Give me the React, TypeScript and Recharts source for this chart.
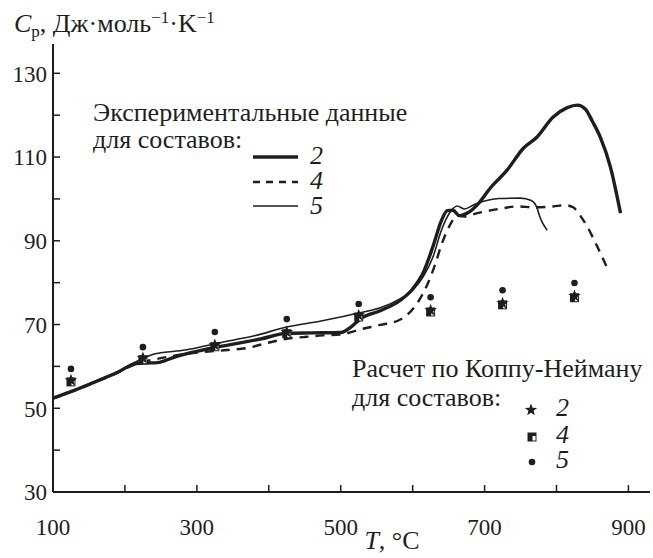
import React from 'react';
import { ComposedChart, Line, Scatter, XAxis, YAxis } from 'recharts';

// Experimental heat capacity curves, [T °C, Cp]
const curve2: [number, number][] = [
  [100, 52.4], [130, 54.3], [160, 56.4], [190, 58.6], [214, 60.6], [230, 60.8], [245, 60.9],
  [270, 62.3], [300, 63.6], [330, 64.7], [360, 65.6], [390, 66.6], [425, 67.9], [460, 68.0],
  [500, 68.1], [515, 69.5], [527, 71.3], [555, 73.3], [583, 75.8], [600, 78.5], [615, 82.5],
  [628, 88.5], [640, 94.8], [648, 97.2], [656, 97.3], [665, 96.0], [678, 96.8], [692, 99.0],
  [708, 102.6], [731, 106.8], [754, 112.1], [773, 114.8], [795, 119.5], [815, 121.8],
  [829, 122.4], [840, 121.5], [850, 118.5], [861, 114.7], [875, 107.6], [889, 96.6],
];

const curve4: [number, number][] = [
  [100, 52.3], [130, 54.2], [160, 56.3], [190, 58.5], [214, 60.5], [245, 61.8], [270, 62.6],
  [300, 63.3], [342, 63.9], [370, 64.4], [398, 65.6], [425, 66.6], [448, 67.0], [475, 67.4],
  [499, 67.6], [531, 69.0], [555, 69.9], [583, 71.2], [606, 75.0], [620, 79.4], [631, 84.2],
  [640, 89.0], [652, 93.8], [662, 96.0], [672, 95.8], [690, 96.6], [720, 97.6], [745, 98.2],
  [770, 98.0], [795, 98.2], [812, 98.5], [823, 98.0], [833, 96.0], [843, 93.3], [857, 88.5],
  [870, 83.7],
];

const curve5: [number, number][] = [
  [100, 52.6], [130, 54.5], [160, 56.6], [190, 58.8], [214, 61.0], [242, 63.0], [284, 63.9],
  [330, 65.6], [380, 67.3], [425, 69.4], [471, 70.8], [527, 72.8], [555, 74.0], [583, 76.2],
  [600, 78.2], [615, 81.5], [628, 86.0], [640, 92.5], [652, 96.8], [662, 98.3], [672, 97.6],
  [685, 98.6], [700, 99.5], [720, 100.1], [750, 100.2], [765, 99.6], [773, 97.8], [777, 95.6],
  [787, 92.5],
];

// Kopp-Neumann estimates
const calcT = [125, 225, 325, 425, 525, 625, 725, 825];
const calcStar = [56.7, 62.0, 65.1, 68.2, 72.2, 73.4, 75.1, 76.8];
const calcSquare = [56.3, 61.6, 64.7, 67.8, 71.8, 73.0, 74.7, 76.4];
const calcDot = [59.4, 64.6, 68.2, 71.3, 74.9, 76.5, 78.2, 79.9];

const xTicks = [100, 200, 300, 400, 500, 600, 700, 800, 900];
const yTicks = [30, 40, 50, 60, 70, 80, 90, 100, 110, 120, 130];

const INK = '#1e1e1e';
const TICK_FS = 23;
const FS = 26;

const toRows = (pts: [number, number][]) => pts.map(([t, cp]) => ({ t, cp }));
const calcRows = (vals: number[]) => calcT.map((t, i) => ({ t, cp: vals[i] }));

const starPath = (cx: number, cy: number, r: number) => {
  let d = '';
  for (let i = 0; i < 10; i++) {
    const rad = i % 2 === 0 ? r : r * 0.42;
    const a = -Math.PI / 2 + (i * Math.PI) / 5;
    d += (i === 0 ? 'M' : 'L') + (cx + rad * Math.cos(a)).toFixed(2) + ',' + (cy + rad * Math.sin(a)).toFixed(2);
  }
  return d + 'Z';
};

const Star = ({ cx, cy }: any) => <path d={starPath(cx, cy, 6.5)} fill={INK} />;

const HalfSquare = ({ cx, cy }: any) => (
  <g>
    <rect x={cx - 4.5} y={cy - 4.5} width={9} height={9} fill={INK} />
    <rect x={cx + 0.5} y={cy - 1} width={3} height={4.5} fill="#fff" />
  </g>
);

const Dot = ({ cx, cy }: any) => <circle cx={cx} cy={cy} r={3.3} fill={INK} />;

// only odd hundreds / odd tens carry a number, the rest are bare ticks
const XTick = ({ x, y, payload }: any) =>
  payload.value % 200 === 100 ? (
    <text x={x} y={y} dy="0.71em" textAnchor="middle" fontSize={TICK_FS} fill={INK}>
      {payload.value}
    </text>
  ) : null;

const YTick = ({ x, y, payload }: any) =>
  payload.value % 20 === 10 ? (
    <text x={x} y={y} dy="0.36em" textAnchor="end" fontSize={TICK_FS} fill={INK}>
      {payload.value}
    </text>
  ) : null;

// html label placed by its baseline
const Label = ({ x, base, italic, children, style }: any) => (
  <div style={{
    position: 'absolute', left: x, top: base - 19, fontSize: FS, lineHeight: '20px',
    whiteSpace: 'nowrap', fontStyle: italic ? 'italic' : 'normal', color: INK, ...style,
  }}>
    {children}
  </div>
);

const supStyle = { fontSize: 17, verticalAlign: 9, lineHeight: 0 };
const subStyle = { fontSize: 17, verticalAlign: -5, lineHeight: 0 };

export default function App() {
  return (
    <div style={{
      position: 'absolute', left: 0, top: 0, width: 653, height: 558, background: '#fff',
      fontFamily: '"Liberation Serif", serif',
    }}>
      <ComposedChart width={653} height={558} margin={{ top: 44, right: 3, bottom: 0, left: 0 }}>
        <XAxis
          type="number"
          dataKey="t"
          domain={[100, 930]}
          ticks={xTicks}
          allowDataOverflow
          height={66}
          tickSize={-7}
          tickMargin={34}
          axisLine={{ stroke: INK, strokeWidth: 2 }}
          tickLine={{ stroke: INK, strokeWidth: 1.5 }}
          tick={XTick}
        />
        <YAxis
          type="number"
          dataKey="cp"
          domain={[30, 137]}
          ticks={yTicks}
          allowDataOverflow
          width={53}
          tickSize={-7}
          tickMargin={13}
          axisLine={{ stroke: INK, strokeWidth: 2 }}
          tickLine={{ stroke: INK, strokeWidth: 1.5 }}
          tick={YTick}
        />
        <Line data={toRows(curve4)} dataKey="cp" type="monotone" stroke={INK} strokeWidth={2.4}
          strokeDasharray="9 7" dot={false} isAnimationActive={false} />
        <Line data={toRows(curve5)} dataKey="cp" type="monotone" stroke={INK} strokeWidth={1.6}
          dot={false} isAnimationActive={false} />
        <Line data={toRows(curve2)} dataKey="cp" type="monotone" stroke={INK} strokeWidth={3.4}
          dot={false} isAnimationActive={false} />
        <Scatter data={calcRows(calcSquare)} dataKey="cp" shape={HalfSquare} isAnimationActive={false} />
        <Scatter data={calcRows(calcStar)} dataKey="cp" shape={Star} isAnimationActive={false} />
        <Scatter data={calcRows(calcDot)} dataKey="cp" shape={Dot} isAnimationActive={false} />
      </ComposedChart>

      {/* legend keys */}
      <svg width={653} height={558} style={{ position: 'absolute', left: 0, top: 0, pointerEvents: 'none' }}>
        <line x1={253} x2={298} y1={157} y2={157} stroke={INK} strokeWidth={3.6} />
        <line x1={253} x2={298} y1={182} y2={182} stroke={INK} strokeWidth={2.4} strokeDasharray="7 6" />
        <line x1={253} x2={298} y1={206} y2={206} stroke={INK} strokeWidth={1.4} />
        <path d={starPath(531, 410, 6.5)} fill={INK} />
        <HalfSquare cx={532} cy={437} />
        <circle cx={532} cy={462} r={3.3} fill={INK} />
      </svg>

      {/* axis titles */}
      <Label x={14} base={33}>
        <i>C</i><span style={subStyle}>p</span>, Дж·моль<span style={supStyle}>−1</span>·K<span style={supStyle}>−1</span>
      </Label>
      <Label x={342} base={550} style={{ width: 100, textAlign: 'center' }}>
        <i>T</i>, °C
      </Label>

      {/* experimental legend text */}
      <Label x={93} base={122}>Экспериментальные данные</Label>
      <Label x={93} base={149}>для составов:</Label>
      <Label x={310} base={165} italic>2</Label>
      <Label x={310} base={190} italic>4</Label>
      <Label x={310} base={215} italic>5</Label>

      {/* calculated legend text */}
      <Label x={352} base={378}>Расчет по Коппу-Нейману</Label>
      <Label x={352} base={407}>для составов:</Label>
      <Label x={556} base={417} italic>2</Label>
      <Label x={556} base={444} italic>4</Label>
      <Label x={556} base={469} italic>5</Label>
    </div>
  );
}
